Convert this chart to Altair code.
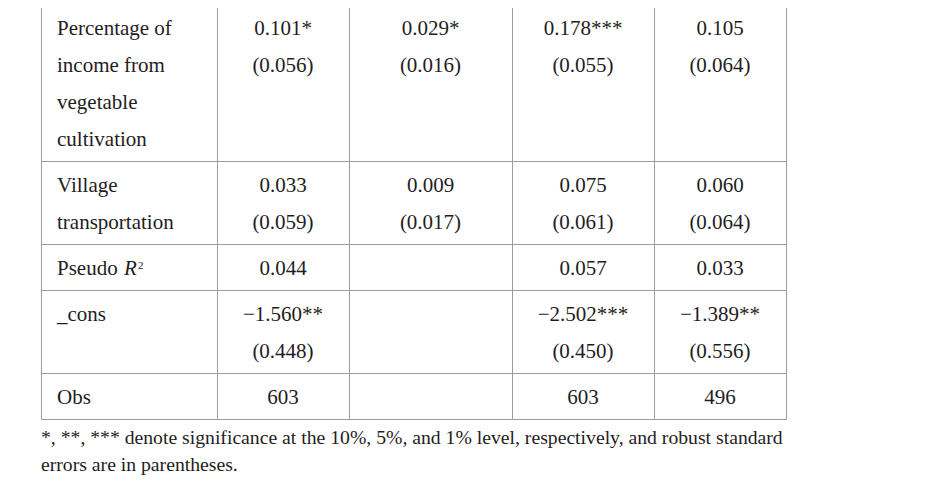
import altair as alt
import pandas as pd

# ---------------- content ----------------
row_labels = [
    ["Percentage of", "income from", "vegetable", "cultivation"],
    ["Village", "transportation"],
    ["Pseudo"],
    ["_cons"],
    ["Obs"],
]
col1 = [["0.101*", "(0.056)"], ["0.033", "(0.059)"], ["0.044"], ["\u22121.560**", "(0.448)"], ["603"]]
col2 = [["0.029*", "(0.016)"], ["0.009", "(0.017)"], [], [], []]
col3 = [["0.178***", "(0.055)"], ["0.075", "(0.061)"], ["0.057"], ["\u22122.502***", "(0.450)"], ["603"]]
col4 = [["0.105", "(0.064)"], ["0.060", "(0.064)"], ["0.033"], ["\u22121.389**", "(0.556)"], ["496"]]
pseudo_italic = "R"
pseudo_sup = "2"
footnote = [
    "*, **, *** denote significance at the 10%, 5%, and 1% level, respectively, and robust standard",
    "errors are in parentheses.",
]

# ---------------- layout ----------------
W, H = 920, 467
ORIGIN = 8
col_edges = [41, 217, 349, 512, 654, 786]
label_x = 57
table_top = 4.3
pitch = 36.9
gap = 9.1
base_off = 31
foot_off = 24.8
foot_pitch = 27
FONT = "Liberation Serif"
TXT = "#1f1d1e"
LINE = "#9c9c9c"

value_cols = [col1, col2, col3, col4]
n_lines = [max([len(row_labels[i])] + [len(c[i]) for c in value_cols]) for i in range(len(row_labels))]

bounds = [table_top]
for n in n_lines:
    bounds.append(bounds[-1] + n * pitch + gap)

label_rows, value_rows = [], []
for i, n in enumerate(n_lines):
    for j, t in enumerate(row_labels[i]):
        label_rows.append({"x": label_x, "y": bounds[i] + base_off + j * pitch, "text": t})
    for k, c in enumerate(value_cols):
        cx = (col_edges[k + 1] + col_edges[k + 2]) / 2
        for j, t in enumerate(c[i]):
            value_rows.append({"x": cx, "y": bounds[i] + base_off + j * pitch, "text": t})

pseudo_i = 2
pseudo_base = bounds[pseudo_i] + base_off
italic_df = pd.DataFrame([{"x": label_x + 67, "y": pseudo_base, "text": pseudo_italic}])
sup_df = pd.DataFrame([{"x": label_x + 81, "y": pseudo_base - 6, "text": pseudo_sup}])

foot_rows = [{"x": col_edges[0], "y": bounds[-1] + foot_off + j * foot_pitch, "text": t}
             for j, t in enumerate(footnote)]

hrules = pd.DataFrame([{"y": round(b) + 0.5, "x": col_edges[0] + 0.5, "x2": col_edges[-1] + 0.5} for b in bounds])
vrules = pd.DataFrame([{"x": e + 0.5, "y": -10, "y2": round(bounds[-1]) + 0.5} for e in col_edges])

xs = alt.Scale(domain=[ORIGIN, ORIGIN + W], nice=False, zero=False)
ys = alt.Scale(domain=[ORIGIN, ORIGIN + H], nice=False, zero=False, reverse=True)

h = alt.Chart(hrules).mark_rule(color=LINE, strokeWidth=1).encode(
    x=alt.X("x:Q", scale=xs, axis=None), x2="x2:Q", y=alt.Y("y:Q", scale=ys, axis=None))
v = alt.Chart(vrules).mark_rule(color=LINE, strokeWidth=1, clip=False).encode(
    x=alt.X("x:Q", scale=xs, axis=None), y=alt.Y("y:Q", scale=ys, axis=None), y2="y2:Q")

def txt(df, align, size=21, style="normal"):
    return alt.Chart(pd.DataFrame(df) if not isinstance(df, pd.DataFrame) else df).mark_text(
        align=align, baseline="alphabetic", font=FONT, fontSize=size, fontStyle=style, color=TXT
    ).encode(x=alt.X("x:Q", scale=xs, axis=None), y=alt.Y("y:Q", scale=ys, axis=None), text="text:N")

chart = alt.layer(
    h, v,
    txt(label_rows, "left"),
    txt(value_rows, "center"),
    txt(italic_df, "left", style="italic"),
    txt(sup_df, "left", size=11),
    txt(foot_rows, "left", size=19.7),
).properties(width=W, height=H, padding=0, autosize="none").configure_view(stroke=None)

chart.save("out.html", embed_options={"renderer": "svg", "actions": False})
